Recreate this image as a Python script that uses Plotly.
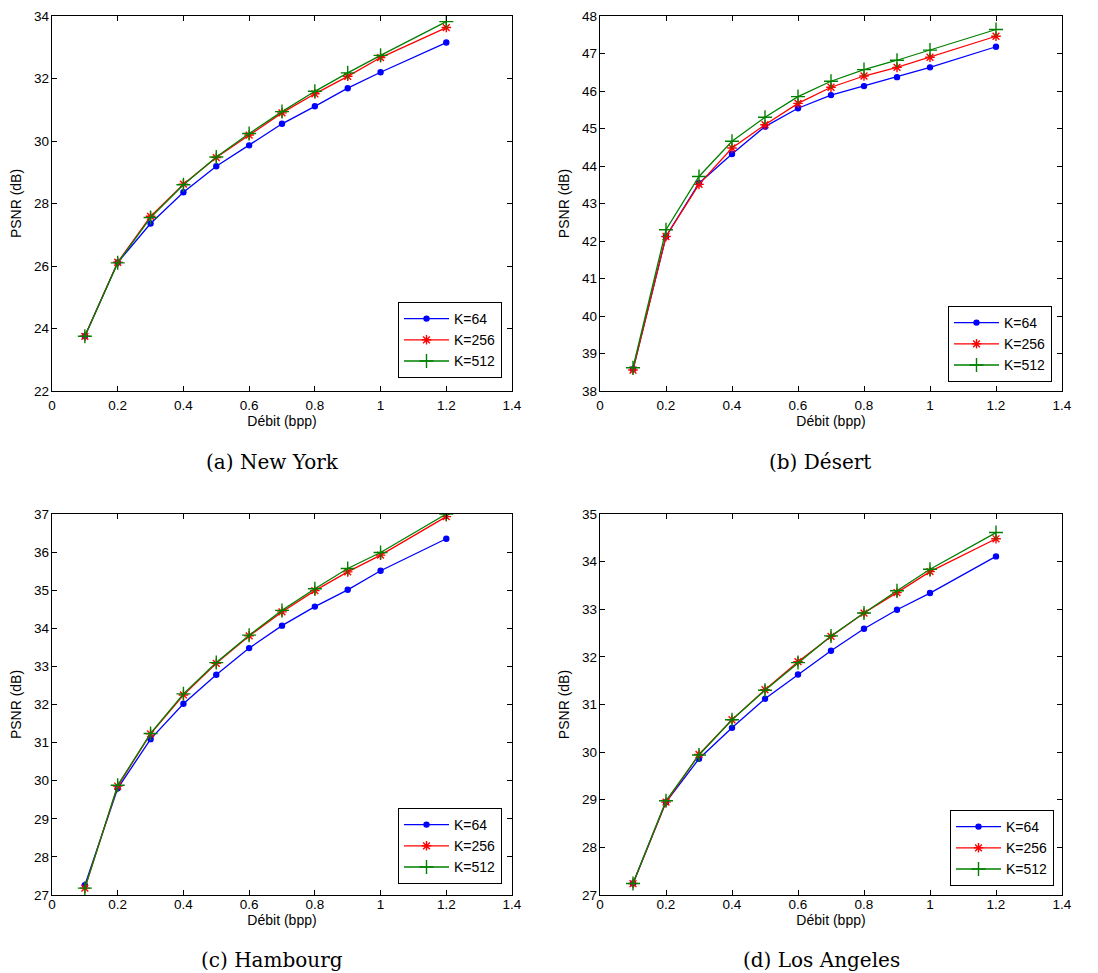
import plotly.graph_objects as go

# The page body has an 8px default margin: the figure is sized to the visible area
OFF = 8
W, H = 1098 - OFF, 973 - OFF

# ---- data ----
rate = [0.1, 0.2, 0.3, 0.4, 0.5, 0.6, 0.7, 0.8, 0.9, 1.0, 1.2]
series_names = ["K=64", "K=256", "K=512"]

ny_k64 = [23.75, 26.11, 27.36, 28.36, 29.19, 29.86, 30.55, 31.11, 31.69, 32.20, 33.15]
ny_k256 = [23.75, 26.12, 27.59, 28.62, 29.47, 30.19, 30.90, 31.51, 32.07, 32.67, 33.63]
ny_k512 = [23.75, 26.10, 27.55, 28.60, 29.49, 30.24, 30.94, 31.59, 32.18, 32.74, 33.82]

de_k64 = [38.58, 42.12, 43.54, 44.32, 45.05, 45.54, 45.89, 46.13, 46.37, 46.63, 47.18]
de_k256 = [38.56, 42.12, 43.51, 44.48, 45.10, 45.67, 46.10, 46.40, 46.63, 46.90, 47.46]
de_k512 = [38.62, 42.30, 43.72, 44.66, 45.30, 45.85, 46.26, 46.57, 46.82, 47.09, 47.64]

hb_k64 = [27.26, 29.80, 31.09, 32.02, 32.78, 33.48, 34.07, 34.57, 35.01, 35.51, 36.35]
hb_k256 = [27.18, 29.86, 31.23, 32.25, 33.08, 33.80, 34.43, 34.99, 35.48, 35.92, 36.93]
hb_k512 = [27.18, 29.88, 31.24, 32.28, 33.10, 33.82, 34.47, 35.04, 35.57, 35.99, 37.00]

la_k64 = [27.24, 28.95, 29.86, 30.51, 31.12, 31.63, 32.13, 32.59, 32.99, 33.34, 34.11]
la_k256 = [27.24, 28.95, 29.95, 30.68, 31.31, 31.90, 32.43, 32.92, 33.35, 33.79, 34.48]
la_k512 = [27.24, 28.98, 29.94, 30.68, 31.30, 31.88, 32.44, 32.92, 33.39, 33.84, 34.61]

captions = ["(a) New York", "(b) Désert", "(c) Hambourg", "(d) Los Angeles"]
y_ranges = [[22, 34], [38, 48], [27, 37], [27, 35]]
y_dticks = [2, 1, 1, 1]
x_ticks = [0, 0.2, 0.4, 0.6, 0.8, 1, 1.2, 1.4]
x_ticklabels = ["0", "0.2", "0.4", "0.6", "0.8", "1", "1.2", "1.4"]

panels = [
    [ny_k64, ny_k256, ny_k512],
    [de_k64, de_k256, de_k512],
    [hb_k64, hb_k256, hb_k512],
    [la_k64, la_k256, la_k512],
]

# ---- styling ----
colors = ["#0000FF", "#FF0000", "#008000"]
symbols = ["circle", "asterisk-open", "cross-thin-open"]
msizes = [5, 8, 10]

# plot area pixel boxes in reference coords: (left, right, top, bottom)
boxes = [
    (52, 512, 16, 391),
    (600, 1062, 16, 391),
    (52, 512, 514, 895),
    (600, 1062, 514, 895),
]
legend_boxes = [  # right, bottom pixel (reference coords)
    (502, 378),
    (1052, 382),
    (502, 884),
    (1054, 886),
]
caption_pos = [(272, 462), (820, 462), (272, 960), (821, 960)]
xlabel_standoff = [2, 2, -3, -3]


def px(x):
    return (x - OFF) / W


def py(y):
    return 1 - (y - OFF) / H


fig = go.Figure()
tick_font = dict(family="Liberation Sans, Arial, sans-serif", size=13.5, color="black")
title_font = dict(family="Liberation Sans, Arial, sans-serif", size=14, color="black")

layout = dict(
    template="none",
    width=W, height=H,
    margin=dict(l=0, r=0, t=0, b=0, autoexpand=False),
    paper_bgcolor="white", plot_bgcolor="white",
    annotations=[],
)

for p, data in enumerate(panels):
    suffix = "" if p == 0 else str(p + 1)
    leg = "legend" if p == 0 else "legend" + str(p + 1)
    for s in range(3):
        fig.add_trace(go.Scatter(
            x=rate, y=data[s], name=series_names[s], mode="lines+markers",
            line=dict(color=colors[s], width=1.3),
            marker=dict(symbol=symbols[s], size=msizes[s], color=colors[s],
                        line=dict(color=colors[s], width=1.4)),
            xaxis="x" + suffix, yaxis="y" + suffix, legend=leg,
        ))
    l, r, t, b = boxes[p]
    layout["xaxis" + suffix] = dict(
        domain=[px(l), px(r)], anchor="y" + suffix, range=[0, 1.4],
        tickvals=x_ticks, ticktext=x_ticklabels, automargin=False,
        ticks="inside", ticklen=5, tickcolor="black", tickwidth=1,
        showline=True, linecolor="black", linewidth=1.3, mirror="ticks",
        showgrid=False, zeroline=False, tickfont=tick_font,
        ticklabelstandoff=xlabel_standoff[p],
        title=dict(text="Débit (bpp)", font=title_font, standoff=2),
    )
    layout["yaxis" + suffix] = dict(
        domain=[py(b), py(t)], anchor="x" + suffix, range=y_ranges[p],
        dtick=y_dticks[p], tick0=0, automargin=False,
        ticks="inside", ticklen=5, tickcolor="black", tickwidth=1,
        showline=True, linecolor="black", linewidth=1.3, mirror="ticks",
        showgrid=False, zeroline=False, tickfont=tick_font,
        ticklabelstandoff=-1,
        title=dict(text="PSNR (dB)", font=title_font, standoff=9),
    )
    lr, lb = legend_boxes[p]
    layout[leg] = dict(
        x=px(lr), y=py(lb), xanchor="right", yanchor="bottom",
        bordercolor="black", borderwidth=1, bgcolor="white",
        font=dict(family="Liberation Sans, Arial, sans-serif", size=14, color="black"),
        tracegroupgap=0, itemwidth=45,
    )
    cx, cy = caption_pos[p]
    layout["annotations"].append(dict(
        text=captions[p], x=px(cx), y=py(cy), xref="paper", yref="paper",
        xanchor="center", yanchor="middle", showarrow=False,
        font=dict(family="DejaVu Serif, serif", size=20, color="black"),
    ))

fig.update_layout(**layout)
fig.write_html("out.html")
